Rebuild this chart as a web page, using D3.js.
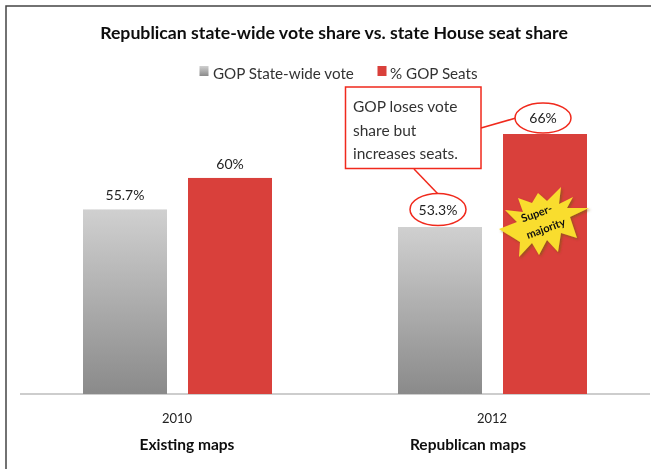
<!DOCTYPE html>
<html><head><meta charset="utf-8">
<script src="https://cdn.jsdelivr.net/npm/d3@7"></script>
<style>html,body{margin:0;padding:0;background:#fff}svg{display:block}text{font-family:Lato,"Open Sans",sans-serif}</style>
</head><body><svg id="c" width="651" height="469"></svg>
<script>
const years = ["2010","2012"];
const mapNames = ["Existing maps","Republican maps"];
const seriesNames = ["GOP State-wide vote","% GOP Seats"];
const voteShare = [55.7,53.3];
const seatShare = [60,66];
const voteLabels = ["55.7%","53.3%"];
const seatLabels = ["60%","66%"];
const noteLines = ["GOP loses vote","share but","increases seats."];
const starLines = ["Super-","majority"];

const svg = d3.select("#c");
const defs = svg.append("defs");
const g = defs.append("linearGradient").attr("id","grey").attr("x1",0).attr("y1",0).attr("x2",0).attr("y2",1);
g.append("stop").attr("offset",0).attr("stop-color","#d0d0d0");
g.append("stop").attr("offset",1).attr("stop-color","#8a8a8a");
const blur = defs.append("filter").attr("id","soft");
blur.append("feGaussianBlur").attr("stdDeviation",0.45);
const sh = defs.append("filter").attr("id","shadow").attr("x","-20%").attr("y","-20%").attr("width","150%").attr("height","150%");
sh.append("feDropShadow").attr("dx",1.5).attr("dy",1.5).attr("stdDeviation",1).attr("flood-color","#7a5a10").attr("flood-opacity",0.7);

const root = svg.append("g").attr("filter","url(#soft)");
root.append("path").attr("d","M6,469V6H651").attr("fill","none").attr("stroke","#444").attr("stroke-width",1.5);

const x0 = d3.scaleBand().domain(years).range([20,650]);
const y = d3.scaleLinear().domain([30.5,66]).range([394,134]);
const barW = 84, gap = 21;
const cx = d => x0(d)+x0.bandwidth()/2;

root.append("line").attr("x1",20).attr("x2",650).attr("y1",394).attr("y2",394).attr("stroke","#bdbdbd").attr("stroke-width",1.5);
root.selectAll(".v").data(years).join("rect").attr("x",d=>cx(d)-gap/2-barW).attr("width",barW)
  .attr("y",(d,i)=>y(voteShare[i])).attr("height",(d,i)=>394-y(voteShare[i])).attr("fill","url(#grey)");
root.selectAll(".s").data(years).join("rect").attr("x",d=>cx(d)+gap/2).attr("width",barW)
  .attr("y",(d,i)=>y(seatShare[i])).attr("height",(d,i)=>394-y(seatShare[i])).attr("fill","#d93f3b");

const txt=(p,x,y,s,size,opt={})=>p.append("text").attr("x",x).attr("y",y).attr("text-anchor",opt.a||"middle")
  .attr("font-size",size).attr("font-weight",opt.w||400).attr("fill",opt.f||"#222").text(s);
txt(root,334,39,"Republican state-wide vote share vs. state House seat share",17.7,{w:700,f:"#111"});
root.append("rect").attr("x",199.5).attr("y",66).attr("width",9).attr("height",10).attr("fill","url(#grey)");
txt(root,213,79,seriesNames[0],15.2,{a:"start",f:"#333"});
root.append("rect").attr("x",377.5).attr("y",66).attr("width",9).attr("height",10).attr("fill","#d93f3b");
txt(root,390,79,seriesNames[1],15.2,{a:"start",f:"#333"});

[177,492].forEach((x,i)=>txt(root,x,423,years[i],13));
[187,468].forEach((x,i)=>txt(root,x,450,mapNames[i],15.5,{w:700,f:"#111"}));
txt(root,cx(years[0])-gap/2-barW/2,200,voteLabels[0],14);
txt(root,cx(years[0])+gap/2+barW/2,169,seatLabels[0],14);

// callout connectors and ellipses
root.append("line").attr("x1",481).attr("y1",128).attr("x2",516).attr("y2",118).attr("stroke","#f0291c").attr("stroke-width",1.5);
root.append("line").attr("x1",414).attr("y1",169).attr("x2",438).attr("y2",194).attr("stroke","#f0291c").attr("stroke-width",1.5);
root.append("rect").attr("x",345.5).attr("y",87).attr("width",135.5).attr("height",81.5).attr("fill","#fff").attr("stroke","#f0291c").attr("stroke-width",1.5);
noteLines.forEach((l,i)=>txt(root,353,112+i*23.5,l,15.5,{a:"start",f:"#333"}));
root.append("ellipse").attr("cx",543).attr("cy",118).attr("rx",28).attr("ry",15).attr("fill","#fff").attr("stroke","#f0291c").attr("stroke-width",1.5);
txt(root,543,123,seatLabels[1],14);
root.append("ellipse").attr("cx",438).attr("cy",209.5).attr("rx",28).attr("ry",16).attr("fill","#fff").attr("stroke","#f0291c").attr("stroke-width",1.5);
txt(root,438,214.5,voteLabels[1],14);

// starburst
const star=[[561,187],[559,204],[573,197],[567,208],[589,208],[570,217],[577,238],[561,233],[558,252],[547,240],[539,255],[532,243],[519,257],[520,242],[499,229],[517,222],[505,210],[523,212],[518,198],[532,203],[538,193],[547,201]];
root.append("polygon").attr("points",star.map(p=>p.join(",")).join(" ")).attr("fill","#f9dd2e").attr("filter","url(#shadow)");
const st1=root.append("g").attr("transform","translate(538,217) rotate(-20)");
txt(st1,0,0,starLines[0],11,{w:700,f:"#111"});
const st2=root.append("g").attr("transform","translate(547,232) rotate(-20)");
txt(st2,0,0,starLines[1],11,{w:700,f:"#111"});
</script></body></html>
